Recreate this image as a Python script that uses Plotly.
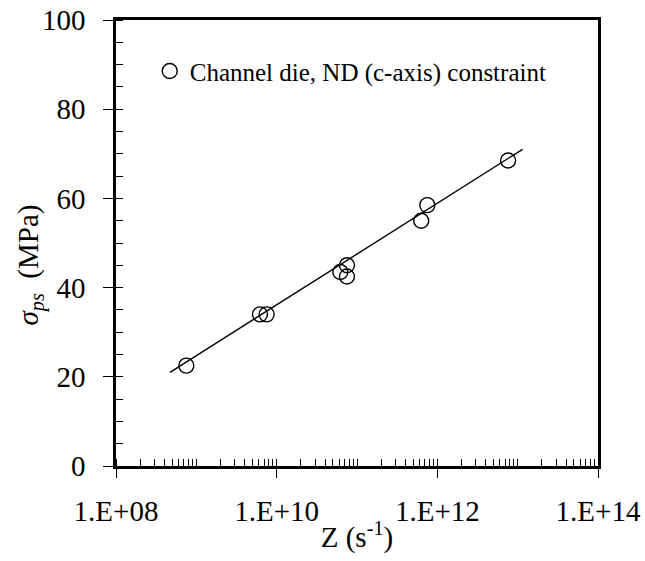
import numpy as np
import plotly.graph_objects as go

# Data
z_values = [7.5e8, 6.2e9, 7.5e9, 6.2e10, 7.5e10, 7.5e10, 6.3e11, 7.5e11, 7.6e12]
sigma_values = [22.5, 34.0, 34.0, 43.5, 45.0, 42.5, 55.0, 58.5, 68.5]
fit_z = [4.7e8, 1.15e13]
fit_sigma = [21.0, 71.0]

x_tickvals = [1e8, 1e10, 1e12, 1e14]
x_ticktext = ["1.E+08", "1.E+10", "1.E+12", "1.E+14"]
y_tickvals = [0, 20, 40, 60, 80, 100]

legend_label = "Channel die, ND (c-axis) constraint"

FONT = "Liberation Serif"

x_minor = [m * 10.0 ** k for k in range(8, 14) for m in range(1, 10)] + [1e14]
y_minor = list(range(0, 101, 5))

fig = go.Figure()
fig.add_trace(go.Scatter(
    x=fit_z, y=fit_sigma, mode="lines",
    line=dict(color="black", width=1.4),
    showlegend=False, hoverinfo="skip",
))
fig.add_trace(go.Scatter(
    x=z_values, y=sigma_values, mode="markers",
    marker=dict(symbol="circle-open", size=15, color="black", line=dict(width=1.4, color="black")),
    name=legend_label,
))

fig.update_layout(
    width=645, height=561,
    margin=dict(l=116, r=47, t=20, b=95, autoexpand=False),
    paper_bgcolor="white", plot_bgcolor="white",
    font=dict(family=FONT, color="black", size=29),
    showlegend=True,
    legend=dict(
        x=0.07, y=0.885, xanchor="left", yanchor="middle",
        bgcolor="rgba(0,0,0,0)", borderwidth=0,
        font=dict(family=FONT, size=25, color="black"),
        itemwidth=30,
    ),
    xaxis=dict(
        type="log", range=[8, 14], automargin=False,
        tickmode="array", tickvals=x_tickvals, ticktext=x_ticktext,
        ticks="outside", ticklen=9, tickwidth=1.2, tickcolor="black",
        showline=True, linewidth=2.5, linecolor="black", mirror=True,
        showgrid=False, zeroline=False,
        ticklabelstandoff=8,
        tickfont=dict(family=FONT, size=29),
        minor=dict(tickmode="array", tickvals=x_minor, ticks="inside",
                   ticklen=7, tickwidth=1, tickcolor="black", showgrid=False),
        title=dict(text="Z (s<sup>-1</sup>)", font=dict(family=FONT, size=29), standoff=2),
    ),
    yaxis=dict(
        range=[0, 100], automargin=False,
        tickmode="array", tickvals=y_tickvals,
        ticks="outside", ticklen=10, tickwidth=1.2, tickcolor="black",
        showline=True, linewidth=2.5, linecolor="black", mirror=True,
        showgrid=False, zeroline=False,
        ticklabelstandoff=12,
        tickfont=dict(family=FONT, size=29),
        minor=dict(tickmode="array", tickvals=y_minor, ticks="inside",
                   ticklen=7, tickwidth=1, tickcolor="black", showgrid=False),
    ),
    annotations=[dict(
        text="<i>σ<sub>ps</sub></i>  (MPa)",
        xref="paper", yref="paper",
        x=-0.178, y=0.45, xanchor="center", yanchor="middle",
        textangle=-90, showarrow=False,
        font=dict(family=FONT, size=29, color="black"),
    )],
)

fig.write_html("out.html")
